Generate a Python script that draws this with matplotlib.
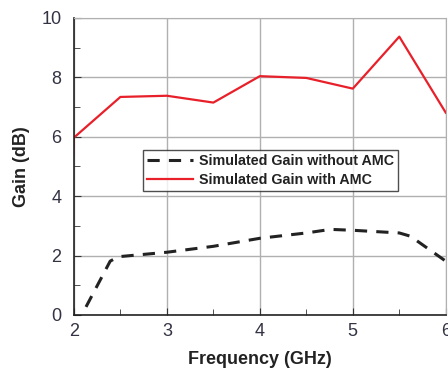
import matplotlib.pyplot as plt
from matplotlib.ticker import MultipleLocator

plt.rcParams['font.family'] = ['Liberation Sans', 'DejaVu Sans']

freq_with = [1.99, 2.0, 2.5, 3.0, 3.5, 4.0, 4.5, 5.0, 5.5, 6.0]
gain_with = [5.3, 5.97, 7.34, 7.38, 7.15, 8.04, 7.98, 7.62, 9.37, 6.81]

freq_without = [2.13, 2.39, 2.48, 3.0, 3.5, 4.0, 4.5, 4.76, 5.0, 5.5, 5.62, 6.0]
gain_without = [0.27, 1.81, 1.96, 2.11, 2.31, 2.58, 2.76, 2.88, 2.85, 2.76, 2.65, 1.81]

fig = plt.figure(figsize=(4.48, 3.74), dpi=100)
ax = fig.add_axes([0.165, 0.158, 0.83, 0.794])

ax.plot(freq_without, gain_without, color='#222222', lw=2.2, ls=(0, (4, 3)),
        label='Simulated Gain without AMC')
ax.plot(freq_with, gain_with, color='#e8202a', lw=1.6,
        label='Simulated Gain with AMC')

ax.set_xlim(2, 6)
ax.set_ylim(0, 10)
ax.xaxis.set_major_locator(MultipleLocator(1))
ax.xaxis.set_minor_locator(MultipleLocator(0.5))
ax.yaxis.set_major_locator(MultipleLocator(2))
ax.yaxis.set_minor_locator(MultipleLocator(1))
ax.grid(True, which='major', color='#b0b0b0', lw=1)
ax.tick_params(which='both', direction='in', labelsize=13, labelcolor='#333344',
               color='#333333')
ax.tick_params(which='major', length=5)
ax.tick_params(which='minor', length=4)
ax.tick_params(axis='x', pad=6)
ax.tick_params(axis='y', pad=9)

for s in ['top', 'right']:
    ax.spines[s].set_color('#b0b0b0')
for s in ['left', 'bottom']:
    ax.spines[s].set_color('#222222')
    ax.spines[s].set_linewidth(1.2)

ax.set_xlabel('Frequency (GHz)', fontsize=13, fontweight='bold', color='#222222',
              labelpad=8)
ax.set_ylabel('Gain (dB)', fontsize=13, fontweight='bold', color='#222222',
              labelpad=8)

leg = ax.legend(loc='upper left', bbox_to_anchor=(0.186, 0.556),
                prop={'weight': 'bold', 'size': 10.3}, frameon=True, fancybox=False,
                borderpad=0.3, labelspacing=0.35, handlelength=3.2, handletextpad=0.4,
                borderaxespad=0)
leg.get_frame().set_edgecolor('#222222')
leg.get_frame().set_linewidth(1)
for t in leg.get_texts():
    t.set_color('#222222')

fig.savefig('out.png', dpi=100)
